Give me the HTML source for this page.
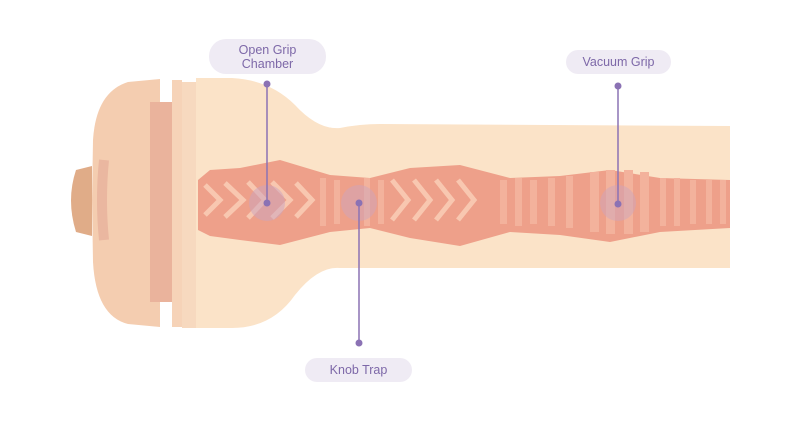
<!DOCTYPE html>
<html><head><style>
html,body{margin:0;padding:0;background:#fff;}
body{width:800px;height:425px;position:relative;overflow:hidden;font-family:"Liberation Sans",sans-serif;}
.pill{position:absolute;background:#efebf4;color:#7d68a8;font-size:12.5px;text-align:center;border-radius:17px;line-height:14px;display:flex;align-items:center;justify-content:center;}
</style></head><body>
<svg width="800" height="425" style="position:absolute;left:0;top:0">
  <path d="M76 170 Q66 200 76 232 L92 236 L92 166 Z" fill="#e0ac88"/>
  <path d="M160 79 L128 82 Q96 92 93 140 L92 200 L93 262 Q96 316 128 324 L160 327 Z" fill="#f4cdb0"/>
  <path d="M104 160 Q100 200 104 240" stroke="#eab7a0" stroke-width="10" fill="none"/>
  <rect x="150" y="102" width="25" height="200" fill="#eab39c"/>
  <rect x="172" y="80" width="10" height="247" fill="#f6d3b8"/>
  <rect x="182" y="82" width="14" height="246" fill="#f7d9bf"/>
  <path d="M196 78 L232 78 Q270 80 295 105 Q318 130 340 128 Q360 124 380 124 L730 126 L730 268 L380 268 Q355 268 340 268 Q318 266 295 295 Q272 328 232 328 L196 328 Z" fill="#fbe3c8"/>
  <path d="M198 180 L210 170 L240 168 L280 160 L330 175 L370 178 L410 168 L460 165 L510 178 L560 176 L610 170 L660 178 L730 180 L730 228 L660 232 L610 242 L560 235 L510 232 L460 246 L410 238 L370 228 L330 232 L280 245 L240 240 L210 236 L198 230 Z" fill="#eea08a"/>
  <g stroke="#f8c7b0" stroke-width="5" fill="none">
    <path d="M205 185 L220 200 L205 215 M225 183 L243 200 L225 217 M248 182 L265 200 L248 218 M272 182 L290 200 L272 218 M296 183 L312 200 L296 217"/>
    <path d="M392 180 L408 200 L392 220 M414 180 L430 200 L414 220 M436 180 L452 200 L436 220 M458 180 L474 200 L458 220"/>
  </g>
  <g fill="#f3b29c">
    <rect x="320" y="178" width="6" height="48"/><rect x="334" y="180" width="6" height="44"/><rect x="364" y="178" width="6" height="48"/><rect x="378" y="180" width="6" height="44"/>
    <rect x="500" y="180" width="7" height="44"/><rect x="515" y="178" width="7" height="48"/><rect x="530" y="180" width="7" height="44"/><rect x="548" y="178" width="7" height="48"/><rect x="566" y="176" width="7" height="52"/>
    <rect x="590" y="172" width="9" height="60"/><rect x="606" y="170" width="9" height="64"/><rect x="624" y="170" width="9" height="64"/><rect x="640" y="172" width="9" height="60"/>
    <rect x="660" y="178" width="6" height="48"/><rect x="674" y="178" width="6" height="48"/><rect x="690" y="180" width="6" height="44"/><rect x="706" y="180" width="6" height="44"/><rect x="720" y="180" width="6" height="44"/>
  </g>
  <circle cx="267" cy="203" r="18" fill="#c9a3c0" opacity="0.5"/>
  <circle cx="359" cy="203" r="18" fill="#c9a3c0" opacity="0.45"/>
  <circle cx="618" cy="203" r="18" fill="#c9a3c0" opacity="0.45"/>
  <g stroke="#8b72b4" stroke-width="1.5"><line x1="267" y1="84" x2="267" y2="203"/><line x1="359" y1="203" x2="359" y2="343"/><line x1="618" y1="86" x2="618" y2="204"/></g>
  <g fill="#8b72b4"><circle cx="267" cy="84" r="3.5"/><circle cx="267" cy="203" r="3.5"/><circle cx="359" cy="203" r="3.5"/><circle cx="359" cy="343" r="3.5"/><circle cx="618" cy="86" r="3.5"/><circle cx="618" cy="204" r="3.5"/></g>
</svg>
<div class="pill" style="left:209px;top:39px;width:117px;height:35px;">Open Grip<br>Chamber</div>
<div class="pill" style="left:566px;top:50px;width:105px;height:24px;">Vacuum Grip</div>
<div class="pill" style="left:305px;top:358px;width:107px;height:24px;">Knob Trap</div>
</body></html>
